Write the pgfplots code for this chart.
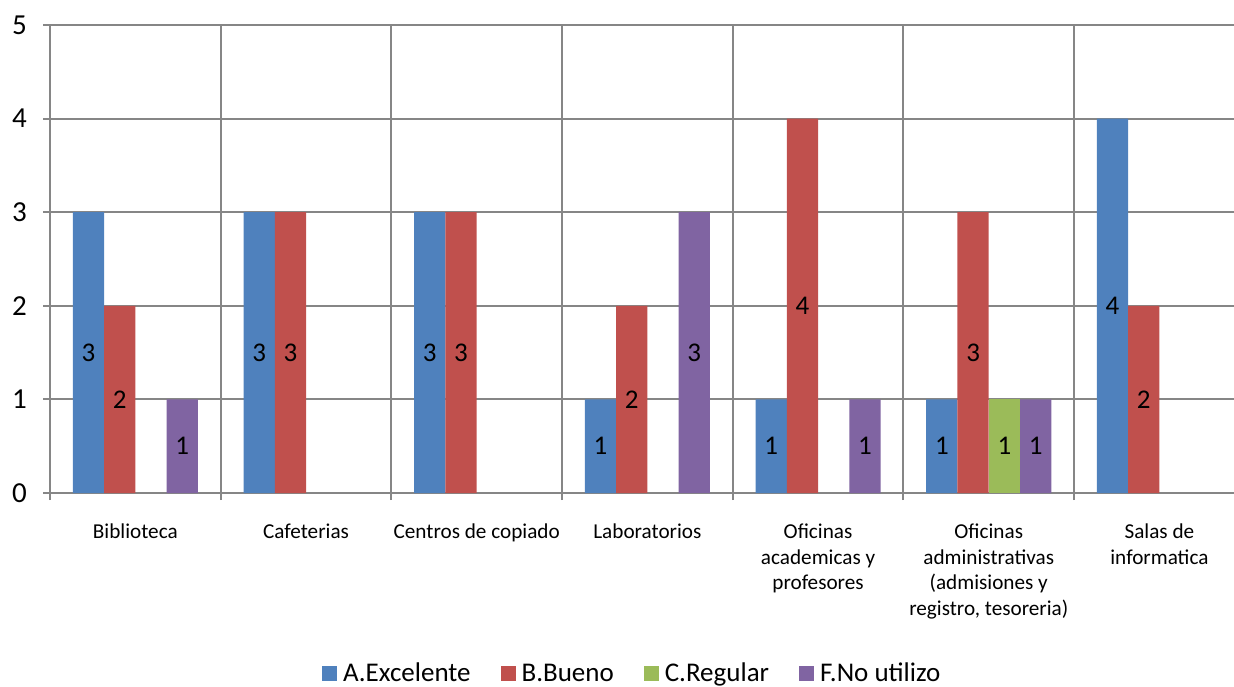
\documentclass[border=0pt]{standalone}
\usepackage{fontspec}
\setmainfont{Carlito}
\usepackage{pgfplots}
\pgfplotsset{compat=1.18}
\definecolor{cA}{HTML}{4F81BD}
\definecolor{cB}{HTML}{C0504D}
\definecolor{cC}{HTML}{9BBB59}
\definecolor{cF}{HTML}{8064A2}
\definecolor{gridgray}{HTML}{868686}
\begin{document}
\begin{tikzpicture}
\begin{axis}[
  at={(25pt,-12.5pt)}, anchor=north west,
  scale only axis, width=592pt, height=234pt,
  ybar=0pt, bar width=0.1831,
  xmin=-0.5, xmax=6.437, ymin=0, ymax=5,
  axis lines=left, axis line style={-, draw=gridgray, line width=1pt},
  tick align=outside,
  major tick length=3.5pt, minor tick length=3.5pt,
  ytick={0,1,2,3,4,5},
  ymajorgrids, xminorgrids,
  grid style={gridgray, line width=1pt},
  minor grid style={gridgray, line width=1pt},
  ytick style={gridgray, line width=1pt},
  major x tick style={draw=none},
  minor x tick style={gridgray, line width=1pt},
  xtick={0,1,2,3,4,5,6},
  minor xtick={-0.5,0.5,1.5,2.5,3.5,4.5,5.5},
  xticklabels={Biblioteca, Cafeterias, Centros de copiado, Laboratorios,
    Oficinas\\academicas y\\profesores,
    {Oficinas\\administrativas\\(admisiones y\\registro, tesoreria)},
    Salas de\\informatica},
  xticklabel style={align=center, font=\fontsize{10.6}{12.8}\selectfont, yshift=-8.5pt},
  yticklabel style={font=\fontsize{14.5}{16}\selectfont, xshift=-4.5pt},
  /pgf/number format/assume math mode=true,
  nodes near coords, nodes near coords align={center},
  visualization depends on=rawy \as \rawy,
  every node near coord/.append style={font=\fontsize{13.5}{15}\selectfont, text=black, yshift={-23.4pt*\rawy}},
  legend columns=-1,
  legend style={at={(0.4935,-0.387)}, anchor=center, draw=none,
    font=\fontsize{13.5}{15}\selectfont,
    nodes={inner xsep=3pt},
    /tikz/every even column/.append style={column sep=12pt}},
  legend image code/.code={\fill[#1] (0pt,-3.2pt) rectangle (7.5pt,4.3pt);},
]
\addplot[fill=cA, draw=none, bar shift=-0.2747] coordinates {(0,3) (1,3) (2,3) (3,1) (4,1) (5,1) (6,4)};
\addplot[fill=cB, draw=none, bar shift=-0.0916] coordinates {(0,2) (1,3) (2,3) (3,2) (4,4) (5,3) (6,2)};
\addplot[fill=cC, draw=none, bar shift=0.0916] coordinates {(5,1)};
\addplot[fill=cF, draw=none, bar shift=0.2747] coordinates {(0,1) (3,3) (4,1) (5,1)};
\legend{A.Excelente, B.Bueno, C.Regular, F.No utilizo}
\end{axis}
\pgfresetboundingbox
\path (0,0) rectangle (617pt,-343pt);
\end{tikzpicture}
\end{document}
